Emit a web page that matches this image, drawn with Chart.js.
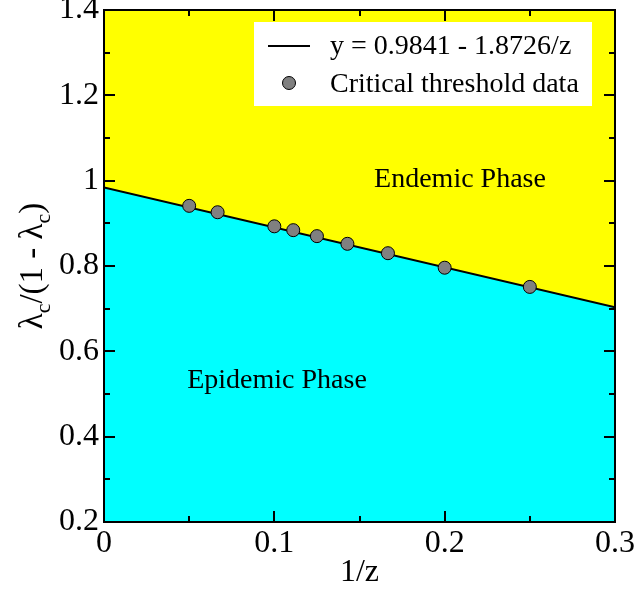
<!DOCTYPE html>
<html>
<head>
<meta charset="utf-8">
<script src="https://cdn.jsdelivr.net/npm/chart.js@4/dist/chart.umd.min.js"></script>
<style>
  html, body { margin: 0; padding: 0; background: #fff; }
  #wrap { width: 638px; height: 592px; }
</style>
</head>
<body>
<div id="wrap"><canvas id="phaseChart" width="638" height="592"></canvas></div>
<script>
// data
var invZ = [0.05, 0.0667, 0.1, 0.1111, 0.125, 0.1429, 0.1667, 0.2, 0.25];
var ratio = [0.941, 0.926, 0.893, 0.884, 0.870, 0.852, 0.830, 0.796, 0.751];
var fitX = [0, 0.3];
var fitY = [0.9841, 0.7032];
var xTicks = [0, 0.1, 0.2, 0.3];
var yTicks = [0.2, 0.4, 0.6, 0.8, 1, 1.2, 1.4];

var serif = "'Liberation Serif', 'DejaVu Serif', serif";

var fitPoints = fitX.map(function(x, i) { return {x: x, y: fitY[i]}; });
var dataPoints = invZ.map(function(x, i) { return {x: x, y: ratio[i]}; });

// yellow background for the plot, frame, ticks, legend and labels
var decor = {
  id: 'decor',
  beforeDatasetsDraw: function(chart) {
    var c = chart.ctx, a = chart.chartArea;
    c.save();
    c.fillStyle = '#ffff00';
    c.fillRect(a.left, a.top, a.right - a.left, a.bottom - a.top);
    c.restore();
  },
  afterDatasetsDraw: function(chart) {
    var c = chart.ctx, a = chart.chartArea;
    var xs = chart.scales.x, ys = chart.scales.y;
    c.save();
    c.strokeStyle = '#000000';
    c.lineWidth = 2;
    c.beginPath();
    c.rect(a.left, a.top, a.right - a.left, a.bottom - a.top);
    // inward ticks, all four sides
    for (var v = 0; v <= 0.3001; v += 0.05) {
      var px = Math.round(xs.getPixelForValue(v));
      var len = (Math.round(v * 100) % 10 === 0) ? 11 : 6;
      c.moveTo(px, a.bottom); c.lineTo(px, a.bottom - len);
      c.moveTo(px, a.top); c.lineTo(px, a.top + len);
    }
    for (var w = 0.2; w <= 1.4001; w += 0.1) {
      var py = Math.round(ys.getPixelForValue(w));
      var l2 = (Math.round(w * 10) % 2 === 0) ? 11 : 6;
      c.moveTo(a.left, py); c.lineTo(a.left + l2, py);
      c.moveTo(a.right, py); c.lineTo(a.right - l2, py);
    }
    c.stroke();
    c.restore();
  },
  afterDraw: function(chart) {
    var c = chart.ctx;
    c.save();
    // phase labels
    c.fillStyle = '#000';
    c.font = '28px ' + serif;
    c.textBaseline = 'middle';
    c.textAlign = 'center';
    c.fillText('Endemic Phase', 460, 180);
    c.fillText('Epidemic Phase', 277, 381);

    // legend
    c.fillStyle = '#fff';
    c.fillRect(254, 22, 338, 84);
    c.strokeStyle = '#000';
    c.lineWidth = 2;
    c.beginPath(); c.moveTo(268, 46); c.lineTo(310, 46); c.stroke();
    c.beginPath(); c.arc(289, 83, 6.5, 0, Math.PI * 2);
    c.fillStyle = '#808080'; c.fill();
    c.lineWidth = 1; c.stroke();
    c.fillStyle = '#000';
    c.textAlign = 'left';
    c.font = '28px ' + serif;
    c.fillText('y = 0.9841 - 1.8726/z', 330, 47);
    c.fillText('Critical threshold data', 330, 85);

    // y axis title with subscripts
    c.translate(32, 266);
    c.rotate(-Math.PI / 2);
    var big = '33px ' + serif, small = '22px ' + serif;
    var parts = [['\u03bb', big, 0], ['c', small, 8], ['/(1 - \u03bb', big, 0], ['c', small, 8], [')', big, 0]];
    var total = 0;
    parts.forEach(function(p) { c.font = p[1]; total += c.measureText(p[0]).width; });
    var x0 = -total / 2;
    c.textAlign = 'left';
    c.textBaseline = 'alphabetic';
    parts.forEach(function(p) {
      c.font = p[1];
      c.fillText(p[0], x0, 10 + p[2]);
      x0 += c.measureText(p[0]).width;
    });
    c.restore();
  }
};

var ctx = document.getElementById('phaseChart').getContext('2d');
var phaseChart = new Chart(ctx, {
  type: 'scatter',
  data: {
    datasets: [{
      label: 'y = 0.9841 - 1.8726/z',
      data: fitPoints,
      showLine: true,
      borderColor: '#000',
      borderWidth: 2,
      pointRadius: 0,
      backgroundColor: '#00ffff',
      fill: 'start',
      order: 2
    }, {
      label: 'Critical threshold data',
      data: dataPoints,
      pointRadius: 6.5,
      pointBackgroundColor: '#808080',
      pointBorderColor: '#000',
      pointBorderWidth: 1,
      order: 1
    }]
  },
  options: {
    responsive: false,
    animation: false,
    layout: { padding: { left: 0, right: 23, top: 10, bottom: 0 } },
    plugins: { legend: { display: false }, tooltip: { enabled: false } },
    scales: {
      x: {
        type: 'linear', min: 0, max: 0.3,
        afterBuildTicks: function(s) { s.ticks = xTicks.map(function(v) { return {value: v}; }); },
        afterFit: function(s) { s.height = 70; s.paddingLeft = 0; s.paddingRight = 0; },
        grid: { display: false, drawTicks: false, tickLength: 0 },
        border: { display: false },
        ticks: { color: '#000', font: { family: serif, size: 32 }, padding: 2, maxRotation: 0,
          callback: function(v) { return String(v); } },
        title: { display: true, text: '1/z', color: '#000', font: { family: serif, size: 32 }, padding: { top: 0, bottom: 0 } }
      },
      y: {
        type: 'linear', min: 0.2, max: 1.4,
        afterBuildTicks: function(s) { s.ticks = yTicks.map(function(v) { return {value: v}; }); },
        afterFit: function(s) { s.width = 104; s.paddingTop = 0; s.paddingBottom = 0; },
        grid: { display: false, drawTicks: false, tickLength: 0 },
        border: { display: false },
        ticks: { color: '#000', font: { family: serif, size: 32 }, padding: 5,
          callback: function(v) { return String(v); } }
      }
    }
  },
  plugins: [decor]
});
</script>
</body>
</html>
